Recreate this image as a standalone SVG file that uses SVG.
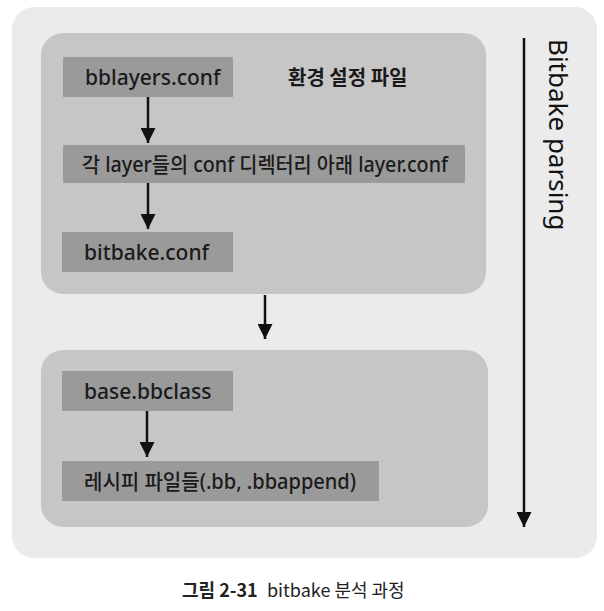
<svg xmlns="http://www.w3.org/2000/svg" width="604" height="611" viewBox="0 0 604 611">
<defs>
<marker id="ah" viewBox="0 0 10 10" refX="10" refY="5" markerWidth="16" markerHeight="15" markerUnits="userSpaceOnUse" orient="auto">
<path d="M0,0 L10,5 L0,10 Z" fill="#111"/>
</marker>
</defs>
<style>
.bg{fill:#ebebeb}
.panel{fill:#c6c6c6}
.box{fill:#9a9a9a}
.t{font-family:"Noto Sans","Noto Sans CJK KR",sans-serif;font-size:21px;font-weight:500;fill:#1a1a1a}
.lbl{font-family:"Noto Sans CJK KR","Noto Sans",sans-serif;font-size:20px;font-weight:700;fill:#1a1a1a}
.side{font-family:"Noto Sans","Noto Sans CJK KR",sans-serif;font-size:26px;fill:#111}
.cap{font-family:"Noto Sans CJK KR","Noto Sans",sans-serif;font-size:18px;fill:#222}
.ln{stroke:#111;stroke-width:2.5;fill:none}
</style>
<rect class="bg" x="12" y="7" width="585" height="551" rx="22"/>
<g id="panel-env">
<rect class="panel" x="41" y="33" width="445" height="261" rx="22"/>
<text class="lbl" x="288" y="85">환경 설정 파일</text>
</g>
<g id="panel-recipe">
<rect class="panel" x="41" y="350" width="447" height="177" rx="22"/>
</g>
<g id="bblayers">
<rect class="box" x="63" y="57" width="170" height="40"/>
<text class="t" x="85" y="85">bblayers.conf</text>
</g>
<g id="layerconf">
<rect class="box" x="63" y="145" width="402" height="38"/>
<text class="t" x="82" y="172" textLength="366" lengthAdjust="spacingAndGlyphs">각 layer들의 conf 디렉터리 아래 layer.conf</text>
</g>
<g id="bitbakeconf">
<rect class="box" x="62" y="232" width="171" height="40"/>
<text class="t" x="84" y="260">bitbake.conf</text>
</g>
<g id="baseclass">
<rect class="box" x="62" y="371" width="171" height="40"/>
<text class="t" x="84" y="399">base.bbclass</text>
</g>
<g id="recipes">
<rect class="box" x="62" y="461" width="317" height="40"/>
<text class="t" x="84" y="489" textLength="272" lengthAdjust="spacingAndGlyphs">레시피 파일들(.bb, .bbappend)</text>
</g>
<g id="connectors">
<line class="ln" x1="148" y1="97" x2="148" y2="143" marker-end="url(#ah)"/>
<line class="ln" x1="148" y1="183" x2="148" y2="229" marker-end="url(#ah)"/>
<line class="ln" x1="265" y1="295" x2="265" y2="339" marker-end="url(#ah)"/>
<line class="ln" x1="147" y1="411" x2="147" y2="457" marker-end="url(#ah)"/>
<line class="ln" x1="524" y1="38" x2="524" y2="527" marker-end="url(#ah)"/>
</g>
<g id="side-label">
<text class="side" transform="translate(549,39) rotate(90)">Bitbake parsing</text>
</g>
<g id="caption">
<text class="cap" x="182" y="597"><tspan font-weight="700">그림 2-31</tspan><tspan x="267">bitbake 분석 과정</tspan></text>
</g>
</svg>
